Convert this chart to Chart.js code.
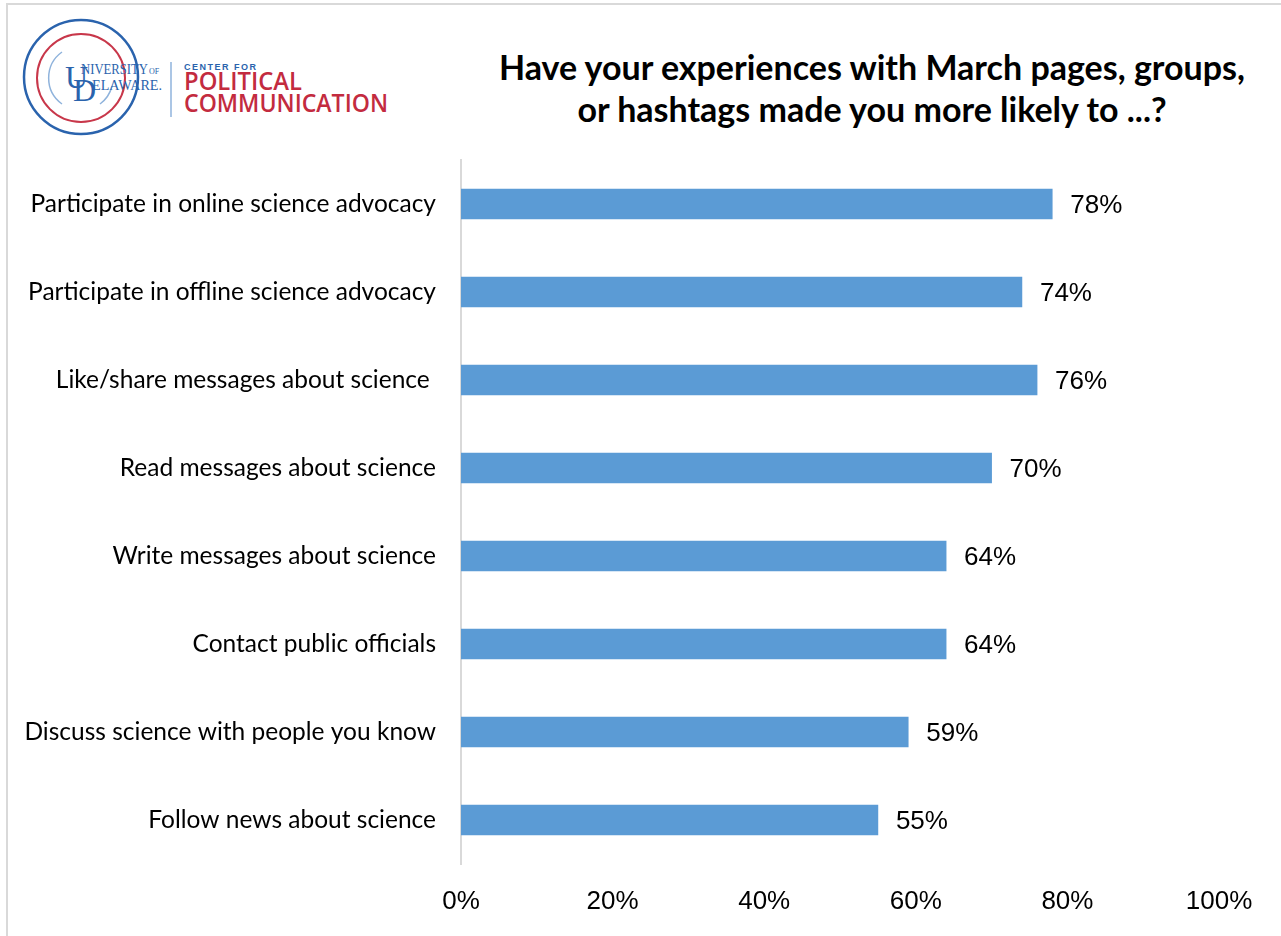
<!DOCTYPE html>
<html>
<head>
<meta charset="utf-8">
<script src="https://cdn.jsdelivr.net/npm/chart.js@4.4.0/dist/chart.umd.min.js"></script>
<style>
  html, body { margin: 0; padding: 0; background: #fff; }
  #wrap { position: relative; width: 1281px; height: 936px; overflow: hidden; }
  #frame { position: absolute; left: 6px; top: 3px; right: 0; bottom: 0;
           border-left: 2px solid #d9d9d9; border-top: 2px solid #d9d9d9; }
  #title { position: absolute; left: 422px; width: 900px; top: 46px;
           text-align: center; font: bold 34px Lato, sans-serif; line-height: 42px; color: #000; }
  #logo { position: absolute; left: 0; top: 0; }
  canvas { position: absolute; left: 0; top: 0; }
</style>
</head>
<body>
<div id="wrap">
  <div id="frame"></div>
  <svg id="logo" width="420" height="150">
    <circle cx="81" cy="77" r="57" fill="none" stroke="#2a63ad" stroke-width="2.5"/>
    <circle cx="81" cy="78" r="44" fill="none" stroke="#c8374a" stroke-width="2"/>
    <path d="M 62 104 A 32 32 0 0 1 62 52" fill="none" stroke="#8fb3dc" stroke-width="1.5"/>
    <path d="M 112 86 A 32 32 0 0 1 100 104" fill="none" stroke="#8fb3dc" stroke-width="1.5"/>
    <text x="65" y="88" font-family="Liberation Serif" font-size="32" fill="#2a63ad">U</text>
    <text x="81" y="74" font-family="Liberation Serif" font-size="15" fill="#2a63ad" textLength="67" lengthAdjust="spacingAndGlyphs">NIVERSITY</text>
    <text x="149" y="74" font-family="Liberation Serif" font-size="8" fill="#2a63ad">OF</text>
    <text x="73" y="101" font-family="Liberation Serif" font-size="32" fill="#2a63ad">D</text>
    <text x="92" y="90" font-family="Liberation Serif" font-size="15" fill="#2a63ad" textLength="70" lengthAdjust="spacingAndGlyphs">ELAWARE.</text>
    <line x1="171" y1="62" x2="171" y2="117" stroke="#8fb3dc" stroke-width="1.5"/>
    <text x="184" y="70" font-family="Liberation Sans" font-weight="bold" font-size="9" fill="#2a63ad" letter-spacing="1.5">CENTER FOR</text>
    <text x="184" y="90" font-family="'Open Sans'" font-weight="600" font-size="25" fill="#c32b3f" textLength="118" lengthAdjust="spacingAndGlyphs">POLITICAL</text>
    <text x="184" y="112" font-family="'Open Sans'" font-weight="600" font-size="25" fill="#c32b3f" textLength="204" lengthAdjust="spacingAndGlyphs">COMMUNICATION</text>
  </svg>
  <div id="title">Have your experiences with March pages, groups,<br>or hashtags made you more likely to ...?</div>
  <canvas id="chart" width="1281" height="936"></canvas>
</div>
<script>
const categories = [
  "Participate in online science advocacy",
  "Participate in offline science advocacy",
  "Like/share messages about science ",
  "Read messages about science",
  "Write messages about science",
  "Contact public officials",
  "Discuss science with people you know",
  "Follow news about science"
];
const values = [78, 74, 76, 70, 64, 64, 59, 55];
const xMin = 0;
const xMax = 100;
const xStep = 20;

const barLabels = {
  id: "barLabels",
  afterDatasetsDraw(chart) {
    const ctx = chart.ctx;
    const meta = chart.getDatasetMeta(0);
    ctx.save();
    ctx.font = "26px 'Liberation Sans', Arial, sans-serif";
    ctx.fillStyle = "#000";
    ctx.textAlign = "left";
    ctx.textBaseline = "middle";
    meta.data.forEach((bar, i) => {
      ctx.fillText(values[i] + "%", bar.x + 18, bar.y + 2);
    });
    ctx.restore();
  }
};

new Chart(document.getElementById("chart").getContext("2d"), {
  type: "bar",
  data: {
    labels: categories,
    datasets: [{
      data: values,
      backgroundColor: "#5b9bd5",
      borderWidth: 0,
      barThickness: 30
    }]
  },
  options: {
    indexAxis: "y",
    responsive: false,
    animation: false,
    layout: { padding: { top: 160, right: 62, bottom: 0, left: 0 } },
    plugins: {
      legend: { display: false },
      tooltip: { enabled: false }
    },
    scales: {
      x: {
        min: xMin,
        max: xMax,
        grid: { display: false, drawTicks: false },
        border: { display: false },
        ticks: {
          stepSize: xStep,
          padding: 22,
          color: "#000",
          font: { family: "'Liberation Sans', Arial, sans-serif", size: 26 },
          callback: v => v + "%"
        },
        afterFit: s => { s.height = 72; }
      },
      y: {
        grid: { display: false, drawTicks: false },
        border: { display: true, color: "#d9d9d9", width: 2 },
        ticks: {
          padding: 25,
          color: "#000",
          font: { family: "Lato, sans-serif", size: 24.5 }
        },
        afterFit: s => { s.width = 461; }
      }
    }
  },
  plugins: [barLabels]
});
</script>
</body>
</html>
